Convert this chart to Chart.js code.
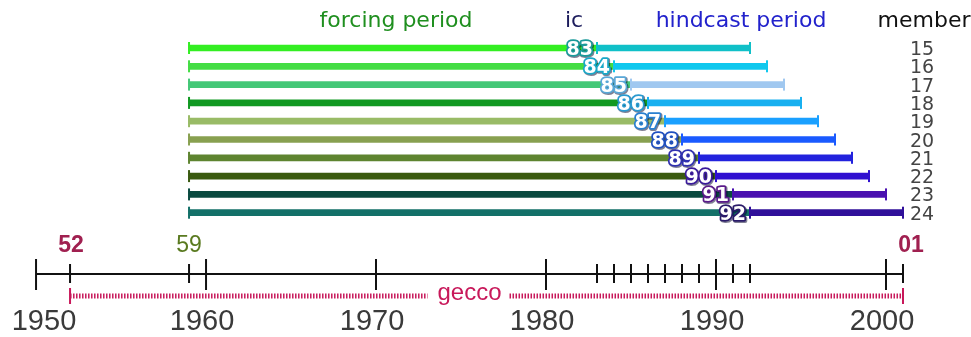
<!DOCTYPE html>
<html lang="en">
<head>
    <meta charset="UTF-8">
    <script src="https://cdn.jsdelivr.net/npm/chart.js"></script>
    <title>Forcing and hindcast periods</title>
    <style>
    body {
        margin: 0;
        background-color: white;
    }
    #wrap {
        position: relative;
        width: 971px;
        height: 337px;
    }
</style>
</head>
<body>
    <div id="wrap">
        <canvas id="periodChart"></canvas>
    </div>

    <script>
        // Data
        const members = [15, 16, 17, 18, 19, 20, 21, 22, 23, 24];
        const forcingStart = [1959, 1959, 1959, 1959, 1959, 1959, 1959, 1959, 1959, 1959];
        const icYears = [1983, 1984, 1985, 1986, 1987, 1988, 1989, 1990, 1991, 1992];
        const hindcastEnd = [1992, 1993, 1994, 1995, 1996, 1997, 1998, 1999, 2000, 2001];
        const majorTicks = [1950, 1960, 1970, 1980, 1990, 2000];
        const minorTicks = [1952, 1959, 1983, 1984, 1985, 1986, 1987, 1988, 1989, 1991, 1992, 2001];
        const geccoRange = [1952, 2001];

        // Colours per member
        const forcingColors = ['#33ee22', '#44dd44', '#44c877', '#119922', '#99bb66',
                               '#88a050', '#5e8430', '#3a5a10', '#0a4a40', '#137068'];
        const hindcastColors = ['#10c0c8', '#10c8ee', '#a0c8f0', '#18b0f0', '#1aa0ff',
                                '#1a5aff', '#2222dd', '#3010d0', '#4a10b0', '#30109a'];
        const icOutline = ['#1a9a9a', '#1aa8c8', '#5aa8d8', '#2a9ad0', '#2a80d0',
                           '#2050c0', '#3030b0', '#3a1a9a', '#5a1a8a', '#2a1a6a'];

        const forcingData = members.map((m, i) => ({ x: [forcingStart[i], icYears[i]], y: i }));
        const hindcastData = members.map((m, i) => ({ x: [icYears[i], hindcastEnd[i]], y: i }));

        // Caps, ic labels, member numbers, headers and the time axis
        const decorations = {
            id: 'decorations',
            afterDatasetsDraw(chart) {
                const ctx = chart.ctx;
                const xs = chart.scales.x;
                const ys = chart.scales.y;
                ctx.save();

                // end caps on every bar
                ctx.lineWidth = 2;
                members.forEach((m, i) => {
                    const y = ys.getPixelForValue(i);
                    [[forcingStart[i], forcingColors[i]], [icYears[i], hindcastColors[i]],
                     [hindcastEnd[i], hindcastColors[i]]].forEach(([yr, col]) => {
                        const x = xs.getPixelForValue(yr);
                        ctx.strokeStyle = col;
                        ctx.beginPath();
                        ctx.moveTo(x, y - 6);
                        ctx.lineTo(x, y + 6);
                        ctx.stroke();
                    });
                });

                // ic labels
                ctx.font = 'bold 19px "DejaVu Sans"';
                ctx.textAlign = 'right';
                ctx.textBaseline = 'alphabetic';
                ctx.lineJoin = 'round';
                members.forEach((m, i) => {
                    const x = xs.getPixelForValue(icYears[i]) - 4;
                    const y = ys.getPixelForValue(i) + 7;
                    const txt = String(icYears[i] % 100);
                    ctx.lineWidth = 4;
                    ctx.strokeStyle = 'rgba(0,0,40,0.5)';
                    ctx.strokeText(txt, x + 1, y + 1);
                    ctx.lineWidth = 3.5;
                    ctx.strokeStyle = icOutline[i];
                    ctx.strokeText(txt, x, y);
                    ctx.fillStyle = 'white';
                    ctx.fillText(txt, x, y);
                });

                // member numbers
                ctx.font = '19px "DejaVu Sans"';
                ctx.textAlign = 'center';
                ctx.fillStyle = '#444';
                members.forEach((m, i) => {
                    ctx.fillText(String(m), 922, ys.getPixelForValue(i) + 7);
                });

                // headers
                ctx.font = '22px "DejaVu Sans"';
                [['forcing period', 396, '#1f8f1f'], ['ic', 574, '#1c1c5c'],
                 ['hindcast period', 741, '#2222cc'], ['member', 924, '#111']].forEach(([t, x, c]) => {
                    ctx.fillStyle = c;
                    ctx.fillText(t, x, 27);
                });

                // time axis
                const axisY = 274;
                ctx.strokeStyle = '#111';
                ctx.lineWidth = 2;
                ctx.beginPath();
                ctx.moveTo(xs.getPixelForValue(majorTicks[0]), axisY);
                ctx.lineTo(xs.getPixelForValue(geccoRange[1]), axisY);
                ctx.stroke();
                majorTicks.forEach(yr => {
                    const x = xs.getPixelForValue(yr);
                    ctx.beginPath();
                    ctx.moveTo(x, axisY - 15);
                    ctx.lineTo(x, axisY + 16);
                    ctx.stroke();
                });
                minorTicks.forEach(yr => {
                    const x = xs.getPixelForValue(yr);
                    ctx.beginPath();
                    ctx.moveTo(x, axisY - 10);
                    ctx.lineTo(x, axisY + 9);
                    ctx.stroke();
                });

                // year labels
                ctx.font = '29px "Liberation Sans"';
                ctx.fillStyle = '#3a3a3a';
                majorTicks.forEach(yr => {
                    const x = Math.max(xs.getPixelForValue(yr) - 4, 44);
                    ctx.fillText(String(yr), x, 330);
                });

                // short labels above the axis
                ctx.font = 'bold 23px "Liberation Sans"';
                ctx.fillStyle = '#a02050';
                ctx.fillText(String(geccoRange[0] % 100), xs.getPixelForValue(geccoRange[0]) + 1, 252);
                ctx.fillText(String(geccoRange[1] % 100).padStart(2, '0'), xs.getPixelForValue(geccoRange[1]) + 8, 252);
                ctx.font = '23px "Liberation Sans"';
                ctx.fillStyle = '#5a7a20';
                ctx.fillText(String(forcingStart[0] % 100), xs.getPixelForValue(forcingStart[0]), 252);

                // gecco dotted period
                const gy = 296;
                const gx0 = xs.getPixelForValue(geccoRange[0]);
                const gx1 = xs.getPixelForValue(geccoRange[1]);
                const textX = xs.getPixelForValue(1975.5);
                ctx.strokeStyle = '#c8185a';
                ctx.lineWidth = 2;
                [gx0, gx1].forEach(x => {
                    ctx.beginPath();
                    ctx.moveTo(x, gy - 8);
                    ctx.lineTo(x, gy + 8);
                    ctx.stroke();
                });
                ctx.lineWidth = 5;
                ctx.setLineDash([1.5, 1.5]);
                ctx.beginPath();
                ctx.moveTo(gx0, gy);
                ctx.lineTo(textX - 42, gy);
                ctx.moveTo(textX + 40, gy);
                ctx.lineTo(gx1, gy);
                ctx.stroke();
                ctx.setLineDash([]);
                ctx.font = '24px "Liberation Sans"';
                ctx.fillStyle = '#c8185a';
                ctx.fillText('gecco', textX, 300);

                ctx.restore();
            }
        };

        const periodChart = new Chart(document.getElementById('periodChart'), {
            type: 'bar',
            data: {
                datasets: [{
                    label: 'forcing period',
                    data: forcingData,
                    backgroundColor: forcingColors,
                    barThickness: 6,
                    grouped: false
                }, {
                    label: 'hindcast period',
                    data: hindcastData,
                    backgroundColor: hindcastColors,
                    barThickness: 6,
                    grouped: false
                }]
            },
            options: {
                indexAxis: 'y',
                responsive: true,
                maintainAspectRatio: false,
                animation: false,
                layout: { padding: 0 },
                plugins: {
                    legend: { display: false },
                    tooltip: { enabled: false }
                },
                scales: {
                    x: { type: 'linear', min: 1947.88, max: 2005, display: false, offset: false },
                    y: { type: 'linear', min: -2.623, max: 15.792, reverse: true, display: false, offset: false }
                }
            },
            plugins: [decorations]
        });
    </script>
</body>
</html>
